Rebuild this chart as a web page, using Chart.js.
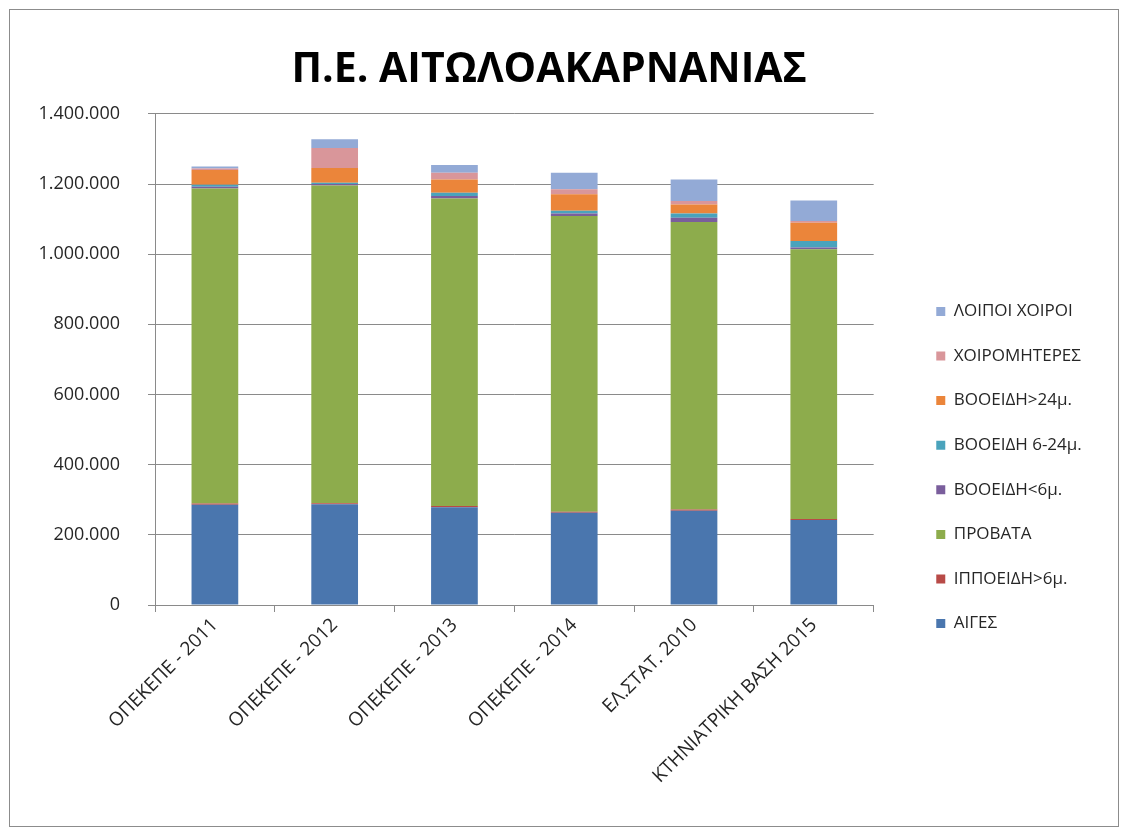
<!DOCTYPE html>
<html>
<head>
<meta charset="utf-8">
<script src="https://cdn.jsdelivr.net/npm/chart.js@4.4.1/dist/chart.umd.min.js"></script>
<style>
  body { margin: 0; background: #fff; }
  #frame {
    position: absolute; left: 9px; top: 9px;
    width: 1108px; height: 816px;
    border: 1px solid #8c8c8c; background: #fff;
  }
</style>
</head>
<body>
<div id="frame"><canvas id="livestock" width="1108" height="816"></canvas></div>
<script>
const categories = [
  "ΟΠΕΚΕΠΕ - 2011",
  "ΟΠΕΚΕΠΕ - 2012",
  "ΟΠΕΚΕΠΕ - 2013",
  "ΟΠΕΚΕΠΕ - 2014",
  "ΕΛ.ΣΤΑΤ. 2010",
  "ΚΤΗΝΙΑΤΡΙΚΗ ΒΑΣΗ 2015",
];

// stacked from the bottom up
const aiges = [286000, 287000, 279000, 263000, 269000, 242000];
const ippoeidi = [3000, 3000, 3000, 3000, 3000, 3000];
const provata = [898000, 906000, 877000, 843000, 820000, 769000];
const vooeidiUnder6 = [5000, 4000, 7000, 7000, 12000, 5000];
const vooeidi6to24 = [6000, 4000, 9000, 8000, 12000, 19000];
const vooeidiOver24 = [42000, 42000, 38000, 47000, 26000, 52000];
const xoiromiteres = [4000, 57000, 19000, 14000, 10000, 5000];
const loipoiXoiroi = [6000, 25000, 22000, 47000, 61000, 58000];

const yTicks = [0, 200000, 400000, 600000, 800000, 1000000, 1200000, 1400000];

function fmt(v) {
  return v.toString().replace(/\B(?=(\d{3})+(?!\d))/g, ".");
}

function series(label, values, color) {
  return {
    label: label,
    data: values,
    backgroundColor: color,
    borderWidth: 0,
    barPercentage: 0.39,
    categoryPercentage: 1,
  };
}

const textColor = "#262626";
const gridColor = "#8a8a8a";

new Chart(document.getElementById("livestock"), {
  type: "bar",
  data: {
    labels: categories,
    datasets: [
      series("ΑΙΓΕΣ", aiges, "#4A76AE"),
      series("ΙΠΠΟΕΙΔΗ>6μ.", ippoeidi, "#B84A47"),
      series("ΠΡΟΒΑΤΑ", provata, "#8DAC4C"),
      series("ΒΟΟΕΙΔΗ<6μ.", vooeidiUnder6, "#7A5E9C"),
      series("ΒΟΟΕΙΔΗ 6-24μ.", vooeidi6to24, "#4AA3BC"),
      series("ΒΟΟΕΙΔΗ>24μ.", vooeidiOver24, "#EB853A"),
      series("ΧΟΙΡΟΜΗΤΕΡΕΣ", xoiromiteres, "#D9969A"),
      series("ΛΟΙΠΟΙ ΧΟΙΡΟΙ", loipoiXoiroi, "#93AAD6"),
    ],
  },
  options: {
    responsive: false,
    animation: false,
    layout: { padding: { left: 0, right: 29.6, top: 0, bottom: 0 } },
    scales: {
      x: {
        stacked: true,
        offset: true,
        grid: {
          offset: true,
          drawOnChartArea: false,
          tickLength: 7,
          color: gridColor,
        },
        border: { color: gridColor },
        ticks: {
          minRotation: 45,
          maxRotation: 45,
          padding: 2,
          color: textColor,
          font: { family: "Open Sans", size: 19 },
        },
        afterFit: (scale) => { scale.height = 221; },
      },
      y: {
        stacked: true,
        min: 0,
        max: 1400000,
        afterBuildTicks: (scale) => {
          scale.ticks = yTicks.map((v) => ({ value: v }));
        },
        grid: { color: gridColor, tickLength: 7 },
        border: { color: gridColor },
        ticks: {
          padding: 28,
          color: textColor,
          font: { family: "Open Sans", size: 18 },
          callback: (v) => fmt(v),
        },
        afterFit: (scale) => { scale.width = 145; },
      },
      gap: {
        type: "linear",
        position: "right",
        display: true,
        grid: { display: false },
        border: { display: false },
        ticks: { display: false },
        afterFit: (scale) => { scale.width = 35; },
      },
    },
    plugins: {
      title: {
        display: true,
        text: "Π.Ε. ΑΙΤΩΛΟΑΚΑΡΝΑΝΙΑΣ",
        color: "#000",
        font: { family: "Open Sans", size: 41, weight: "bold" },
        padding: { top: 36, bottom: 18.7 },
      },
      legend: {
        position: "right",
        reverse: true,
        title: {
          display: true,
          text: " ",
          font: { size: 10 },
          padding: { top: 87, bottom: 0 },
        },
        labels: {
          boxWidth: 9,
          boxHeight: 9,
          padding: 27.6,
          color: textColor,
          font: { family: "Open Sans", size: 17 },
        },
      },
      tooltip: { enabled: false },
    },
  },
});
</script>
</body>
</html>
